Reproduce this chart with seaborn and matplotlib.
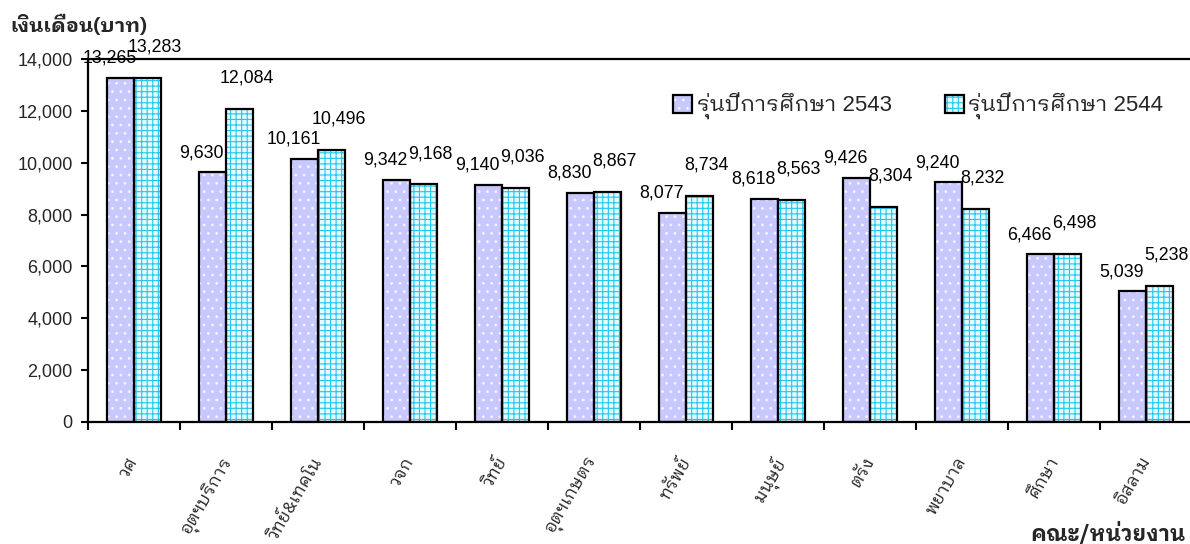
import numpy as np
import pandas as pd
import matplotlib
matplotlib.use("Agg")
import matplotlib.pyplot as plt
import seaborn as sns
from matplotlib import font_manager as fm
from matplotlib.ft2font import FT2Font
from matplotlib.patches import Rectangle, Patch
from matplotlib.transforms import ScaledTranslation

# ---------------- data ----------------
categories = ["วศ", "อุตฯบริการ", "วิทย์&เทคโน", "วจก", "วิทย์", "อุตฯเกษตร",
              "ทรัพย์", "มนุษย์", "ตรัง", "พยาบาล", "ศึกษา", "อิสลาม"]
series_names = ["รุ่นปีการศึกษา 2543", "รุ่นปีการศึกษา 2544"]
salary_2543 = [13265, 9630, 10161, 9342, 9140, 8830, 8077, 8618, 9426, 9240, 6466, 5039]
salary_2544 = [13283, 12084, 10496, 9168, 9036, 8867, 8734, 8563, 8304, 8232, 6498, 5238]
y_ticks = [0, 2000, 4000, 6000, 8000, 10000, 12000, 14000]
y_title = "เงินเดือน(บาท)"
x_title = "คณะ/หน่วยงาน"

# ---------------- fonts ----------------
def find_thai_family():
    found = []
    for f in fm.fontManager.ttflist:
        try:
            ft = FT2Font(f.fname)
            if ft.get_char_index(0x0E01) and ft.get_char_index(0x0E34):
                found.append(f.name)
        except Exception:
            pass
    found = sorted(set(found), key=lambda n: (("Thai" not in n), ("Looped" not in n),
                                               ("Sans" not in n), n))
    return found[0] if found else None

thai = find_thai_family()

sns.set_style("white")
fams = ["Liberation Sans"] + ([thai] if thai else []) + ["DejaVu Sans"]
plt.rcParams["font.family"] = fams
thai_first = ([thai] if thai else []) + ["Liberation Sans", "DejaVu Sans"]

# ---------------- figure ----------------
fig = plt.figure(figsize=(11.9, 5.44), dpi=100)
ax = fig.add_axes([88 / 1190, 122 / 544, 1104 / 1190, 363 / 544])

df = pd.DataFrame({
    "cat": categories * 2,
    "series": [series_names[0]] * len(categories) + [series_names[1]] * len(categories),
    "value": salary_2543 + salary_2544,
})

face_cols = ["#C8C8FF", "#E6FAFF"]
hatch_cols = ["#F4F4FF", "#22C8F0"]
hatches = ["..", "+++"]
plt.rcParams["hatch.linewidth"] = 0.8

sns.barplot(data=df, x="cat", y="value", hue="series", palette=face_cols,
            saturation=1, width=0.587, gap=0, ax=ax, legend=False, errorbar=None)

label_dx = [-8, 5]
label_dy = [8, 16]
for i, cont in enumerate(ax.containers):
    for bar in cont:
        bar.set_hatch(hatches[i])
        bar.set_edgecolor(hatch_cols[i])
        bar.set_linewidth(0)
        ax.add_patch(Rectangle((bar.get_x(), bar.get_y()), bar.get_width(), bar.get_height(),
                               fill=False, edgecolor="black", linewidth=1.6, zorder=3))
        h = bar.get_height()
        ax.annotate(f"{int(round(h)):,}", xy=(bar.get_x() + bar.get_width() / 2, h),
                    xytext=(label_dx[i], label_dy[i]), textcoords="offset points",
                    ha="center", va="bottom", fontsize=12.8, color="black", zorder=4,
                    annotation_clip=False)

ax.set_xlim(-0.5, len(categories) - 0.5)
ax.set_ylim(0, 14000)
ax.set_yticks(y_ticks)
ax.set_yticklabels([f"{v:,}" for v in y_ticks], fontsize=13)
ax.set_xlabel("")
ax.set_ylabel("")

ax.set_xticks(range(len(categories)))
ax.set_xticklabels(categories, rotation=60, ha="right", va="top",
                   rotation_mode="anchor", fontsize=12.5, family=thai_first)
ax.set_xticks(np.arange(-0.5, len(categories) - 0.4, 1.0), minor=True)
ax.tick_params(axis="x", which="both", bottom=True)
ax.tick_params(axis="y", which="both", left=True)
ax.tick_params(axis="x", which="major", length=0, pad=23)
ax.tick_params(axis="x", which="minor", length=6, width=1.5, direction="out", color="black")
ax.tick_params(axis="y", which="major", length=5, width=1.5, direction="out",
               color="black", pad=6)
for lab in ax.get_xticklabels():
    lab.set_transform(lab.get_transform() + ScaledTranslation(-7 / 100, 0, fig.dpi_scale_trans))

for s in ["left", "bottom", "top"]:
    ax.spines[s].set_visible(True)
    ax.spines[s].set_color("black")
    ax.spines[s].set_linewidth(1.6)
ax.spines["right"].set_visible(False)
ax.grid(False)

# legend
handles = []
for i in range(2):
    hp = Patch(facecolor=face_cols[i], edgecolor=hatch_cols[i], hatch=hatches[i], linewidth=0)
    op = Patch(facecolor="none", edgecolor="black", linewidth=1.6)
    handles.append((hp, op))
leg = ax.legend(handles, series_names, loc="center", bbox_to_anchor=(0.752, 0.87),
                ncol=2, frameon=True, fancybox=False, framealpha=1, facecolor="white",
                edgecolor="none", fontsize=16, handlelength=0.85, handleheight=0.85,
                handletextpad=0.2, columnspacing=2.4, borderpad=0.5)
leg.set_zorder(10)

fig.text(10 / 1190, 1 - 25 / 544, y_title, ha="left", va="center", fontsize=14.5,
         fontweight="bold", family=thai_first)
fig.text(1186 / 1190, 1 - 533 / 544, x_title, ha="right", va="center", fontsize=15.5,
         fontweight="bold", family=thai_first)

if thai is None:
    fig.text(0.5, 0.5, "NO THAI FONT", color="red")

fig.savefig("out.png", dpi=100)
